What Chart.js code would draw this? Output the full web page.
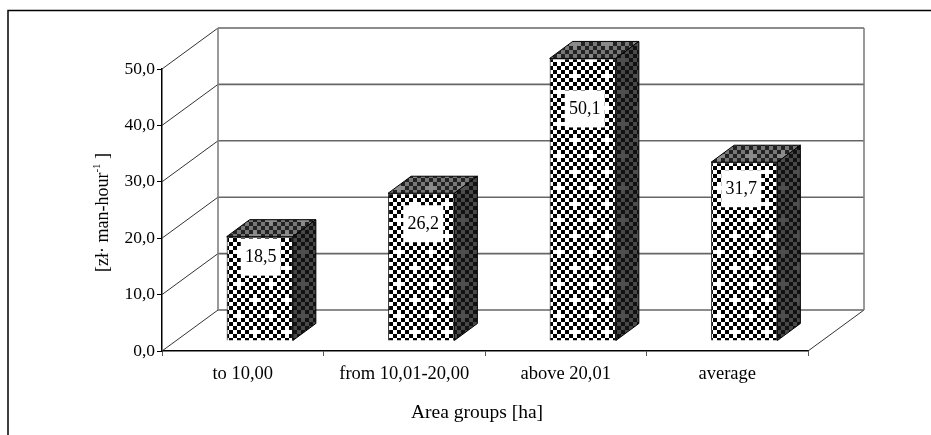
<!DOCTYPE html>
<html>
<head>
<meta charset="utf-8">
<title>Labour productivity by area group</title>
<style>
  html, body { margin: 0; padding: 0; background: #fff; overflow: hidden; }
  canvas { display: block; }
</style>
<script src="https://cdn.jsdelivr.net/npm/chart.js@4/dist/chart.umd.min.js"></script>
</head>
<body>
<canvas id="costChart" width="931" height="435"></canvas>
<script>
const categories = ['to 10,00', 'from 10,01-20,00', 'above 20,01', 'average'];
const values = [18.5, 26.2, 50.1, 31.7];
const yTicks = [0, 10, 20, 30, 40, 50];
const xTitle = 'Area groups [ha]';
const yTitle = ['[zł· man-hour', '-1', ' ]'];

// Where each value box sits relative to the top centre of its bar.
const labelDrop = [21, 31, 51, 27];
const labelNudge = [1, 2, 2, -3];

const serif = '"Liberation Serif", "Times New Roman", serif';
const wallDepth = { x: 56, y: -41 };
const barShift = { x: 17, y: -10 };
const barDepth = { x: 23, y: -17 };

const formatValue = (value) => Number(value).toFixed(1).replace('.', ',');

// Checker tile with staggered light plus marks, used for all three bar faces.
function makePattern(dark, light, plus) {
  const tile = document.createElement('canvas');
  tile.width = 32;
  tile.height = 32;
  const t = tile.getContext('2d');
  t.fillStyle = light;
  t.fillRect(0, 0, 32, 32);
  t.fillStyle = dark;
  for (let row = 0; row < 8; row++) {
    for (let col = 0; col < 8; col++) {
      if ((row + col) % 2 === 0) t.fillRect(col * 4, row * 4, 4, 4);
    }
  }
  t.fillStyle = plus;
  [[7, 1], [3, 5]].forEach(([col, row]) => {
    [[0, 0], [1, 0], [-1, 0], [0, 1], [0, -1]].forEach(([dx, dy]) => {
      t.fillRect(((col + dx + 8) % 8) * 4, ((row + dy + 8) % 8) * 4, 4, 4);
    });
  });
  return t.createPattern(tile, 'repeat');
}

const ctx0 = document.getElementById('costChart').getContext('2d');
const frontFace = makePattern('#000000', '#ffffff', '#ffffff');
const topFace = makePattern('#222222', '#777777', '#8a8a8a');
const sideFace = makePattern('#111111', '#484848', '#4e4e4e');

// Page frame, open towards the right and bottom edges.
const framePlugin = {
  id: 'frame',
  beforeDraw(chart) {
    const { ctx, width, height } = chart;
    ctx.save();
    ctx.strokeStyle = '#000';
    ctx.lineWidth = 1.5;
    ctx.beginPath();
    ctx.moveTo(8, height);
    ctx.lineTo(8, 10.5);
    ctx.lineTo(width, 10.5);
    ctx.stroke();
    ctx.restore();
  },
};

// Back wall, floor and the diagonals joining it to the front axes.
const wallPlugin = {
  id: 'wall',
  beforeDatasetsDraw(chart) {
    const { ctx, scales: { x, y } } = chart;
    const left = x.left;
    const right = x.right;
    const bottom = y.getPixelForValue(0);
    const top = y.getPixelForValue(50);
    ctx.save();
    ctx.lineWidth = 1;
    ctx.strokeStyle = '#333';
    yTicks.forEach((tick) => {
      const py = y.getPixelForValue(tick);
      ctx.beginPath();
      ctx.moveTo(left, py);
      ctx.lineTo(left + wallDepth.x, py + wallDepth.y);
      ctx.stroke();
    });
    ctx.beginPath();
    ctx.moveTo(right, bottom);
    ctx.lineTo(right + wallDepth.x, bottom + wallDepth.y);
    ctx.stroke();

    ctx.strokeStyle = '#666';
    ctx.lineWidth = 1.6;
    yTicks.forEach((tick) => {
      const py = y.getPixelForValue(tick) + wallDepth.y;
      ctx.beginPath();
      ctx.moveTo(left + wallDepth.x, py);
      ctx.lineTo(right + wallDepth.x, py);
      ctx.stroke();
    });
    ctx.strokeStyle = '#808080';
    [left, right].forEach((px) => {
      ctx.beginPath();
      ctx.moveTo(px + wallDepth.x, top + wallDepth.y);
      ctx.lineTo(px + wallDepth.x, bottom + wallDepth.y);
      ctx.stroke();
    });
    ctx.restore();
    // The bars stand on the floor, a little behind the front axis.
    ctx.save();
    ctx.translate(barShift.x, barShift.y);
  },
  afterDatasetsDraw(chart) {
    const { ctx } = chart;
    const bars = chart.getDatasetMeta(0).data;
    ctx.lineWidth = 1;
    ctx.strokeStyle = '#000';
    bars.forEach((bar) => {
      const l = bar.x - bar.width / 2;
      const r = bar.x + bar.width / 2;
      ctx.beginPath();
      ctx.moveTo(l, bar.y);
      ctx.lineTo(l + barDepth.x, bar.y + barDepth.y);
      ctx.lineTo(r + barDepth.x, bar.y + barDepth.y);
      ctx.lineTo(r, bar.y);
      ctx.closePath();
      ctx.fillStyle = topFace;
      ctx.fill();
      ctx.stroke();
      ctx.beginPath();
      ctx.moveTo(r, bar.y);
      ctx.lineTo(r + barDepth.x, bar.y + barDepth.y);
      ctx.lineTo(r + barDepth.x, bar.base + barDepth.y);
      ctx.lineTo(r, bar.base);
      ctx.closePath();
      ctx.fillStyle = sideFace;
      ctx.fill();
      ctx.stroke();
    });
    ctx.restore();

    // Value boxes on the front faces.
    ctx.save();
    ctx.font = '18px ' + serif;
    ctx.textAlign = 'center';
    ctx.textBaseline = 'middle';
    bars.forEach((bar, i) => {
      const cx = bar.x + barShift.x + labelNudge[i];
      const cy = bar.y + barShift.y + labelDrop[i];
      ctx.fillStyle = '#fff';
      ctx.fillRect(cx - 20, cy - 19, 40, 37);
      ctx.fillStyle = '#000';
      ctx.fillText(formatValue(values[i]), cx, cy);
    });
    ctx.restore();
  },
  afterDraw(chart) {
    const { ctx } = chart;

    // Horizontal axis caption.
    ctx.save();
    ctx.fillStyle = '#000';
    ctx.font = '19.5px ' + serif;
    ctx.textAlign = 'center';
    ctx.textBaseline = 'middle';
    ctx.fillText(xTitle, 477, 413);
    ctx.restore();

    // Vertical axis caption with a raised exponent.
    ctx.save();
    ctx.translate(108, 272);
    ctx.rotate(-Math.PI / 2);
    ctx.fillStyle = '#000';
    ctx.textBaseline = 'alphabetic';
    ctx.font = '18px ' + serif;
    ctx.fillText(yTitle[0], 0, 0);
    let offset = ctx.measureText(yTitle[0]).width;
    ctx.font = '11px ' + serif;
    ctx.fillText(yTitle[1], offset, -8);
    offset += ctx.measureText(yTitle[1]).width;
    ctx.font = '18px ' + serif;
    ctx.fillText(yTitle[2], offset, 0);
    ctx.restore();
  },
};

new Chart(ctx0, {
  type: 'bar',
  data: {
    labels: categories,
    datasets: [{
      data: values,
      backgroundColor: frontFace,
      borderColor: '#000',
      borderWidth: 1,
      barPercentage: 0.41,
      categoryPercentage: 1,
      clip: false,
    }],
  },
  options: {
    responsive: false,
    animation: false,
    layout: { padding: { left: 0, top: 69, right: 123, bottom: 0 } },
    plugins: { legend: { display: false }, tooltip: { enabled: false } },
    scales: {
      x: {
        afterFit: (scale) => { scale.height = 84; },
        grid: { drawOnChartArea: false, tickLength: 5, tickColor: '#555', offset: true },
        border: { color: '#000', width: 1.5 },
        ticks: { color: '#000', padding: 7, maxRotation: 0, font: { family: serif, size: 18.5 } },
      },
      y: {
        min: 0,
        max: 50,
        afterFit: (scale) => { scale.width = 162; },
        afterBuildTicks: (scale) => { scale.ticks = yTicks.map((value) => ({ value })); },
        grid: { drawOnChartArea: false, tickLength: 5, tickColor: '#000' },
        border: { color: '#000', width: 1.5 },
        ticks: { color: '#000', padding: 2, callback: formatValue, font: { family: serif, size: 17.5 } },
      },
    },
  },
  plugins: [framePlugin, wallPlugin],
});
</script>
</body>
</html>
